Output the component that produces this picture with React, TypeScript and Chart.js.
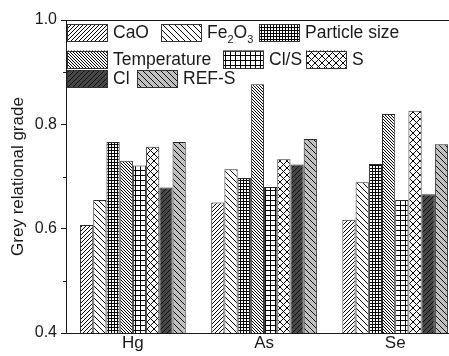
import React, { useEffect, useRef } from 'react';
import { Chart, registerables } from 'chart.js';

Chart.register(...registerables);

const categories = ['Hg', 'As', 'Se'];
const categoryPositions = [1, 2, 3];
const seriesNames = ['CaO', 'Fe2O3', 'Particle size', 'Temperature', 'Cl/S', 'S', 'Cl', 'REF-S'];
const CaO = [0.607, 0.65, 0.617];
const Fe2O3 = [0.655, 0.714, 0.689];
const particleSize = [0.766, 0.697, 0.724];
const temperature = [0.73, 0.877, 0.82];
const clS = [0.721, 0.68, 0.655];
const S = [0.757, 0.733, 0.826];
const Cl = [0.679, 0.723, 0.666];
const refS = [0.766, 0.772, 0.762];
const seriesValues = [CaO, Fe2O3, particleSize, temperature, clS, S, Cl, refS];
const yMajorTicks = [0.4, 0.6, 0.8, 1.0];
const yMinorTicks = [0.5, 0.7, 0.9];
const yTitle = 'Grey relational grade';

const FONT = "'Liberation Sans', Arial, Helvetica, sans-serif";
const INK = '#1a1a1a';

type PatSpec = { kind: 'fwd' | 'back' | 'grid' | 'cross'; s: number; bg: string; fg: string };
const patternSpecs: PatSpec[] = [
  { kind: 'fwd', s: 4, bg: '#ffffff', fg: '#000000' },
  { kind: 'back', s: 6, bg: '#ffffff', fg: '#000000' },
  { kind: 'grid', s: 3, bg: '#ffffff', fg: '#000000' },
  { kind: 'back', s: 3, bg: '#ffffff', fg: '#000000' },
  { kind: 'grid', s: 5, bg: '#ffffff', fg: '#000000' },
  { kind: 'cross', s: 7, bg: '#ffffff', fg: '#000000' },
  { kind: 'fwd', s: 5, bg: '#474747', fg: '#101010' },
  { kind: 'back', s: 6, bg: '#c0c0c0', fg: '#101010' },
];

function makePattern(spec: PatSpec): CanvasPattern | string {
  const c = document.createElement('canvas');
  const s = spec.s;
  c.width = s;
  c.height = s;
  const g = c.getContext('2d');
  if (!g) return spec.bg;
  g.fillStyle = spec.bg;
  g.fillRect(0, 0, s, s);
  g.strokeStyle = spec.fg;
  g.fillStyle = spec.fg;
  g.lineWidth = 1;
  const fwd = () => {
    g.beginPath();
    g.moveTo(-1, s + 1);
    g.lineTo(s + 1, -1);
    g.moveTo(-1, 1);
    g.lineTo(1, -1);
    g.moveTo(s - 1, s + 1);
    g.lineTo(s + 1, s - 1);
    g.stroke();
  };
  const back = () => {
    g.beginPath();
    g.moveTo(-1, -1);
    g.lineTo(s + 1, s + 1);
    g.moveTo(s - 1, -1);
    g.lineTo(s + 1, 1);
    g.moveTo(-1, s - 1);
    g.lineTo(1, s + 1);
    g.stroke();
  };
  if (spec.kind === 'fwd') fwd();
  else if (spec.kind === 'back') back();
  else if (spec.kind === 'cross') {
    fwd();
    back();
  } else {
    g.fillRect(0, 0, s, 1);
    g.fillRect(0, 0, 1, s);
  }
  return g.createPattern(c, 'repeat') || spec.bg;
}

const legendRows = [[0, 1, 2], [3, 4, 5], [6, 7]];
const legendRowTops = [24, 50.5, 70];
const legendSwatchX = [[67, 161, 259], [67, 223, 306], [67, 137]];
const SW_W = 41;
const SW_H = 17.5;
const LEGEND_FONT_SIZE = 17.5;

const framePlugin = {
  id: 'framePlugin',
  afterDraw(chart: any) {
    const ctx = chart.ctx as CanvasRenderingContext2D;
    const area = chart.chartArea;
    const y = chart.scales.y;
    ctx.save();
    // top frame line
    ctx.strokeStyle = INK;
    ctx.lineWidth = 1;
    ctx.beginPath();
    ctx.moveTo(area.left, Math.round(area.top) + 0.5);
    ctx.lineTo(area.right, Math.round(area.top) + 0.5);
    ctx.stroke();
    // minor ticks
    ctx.beginPath();
    yMinorTicks.forEach((v) => {
      const py = Math.round(y.getPixelForValue(v)) + 0.5;
      ctx.moveTo(area.left - 3, py);
      ctx.lineTo(area.left, py);
    });
    ctx.stroke();

    // legend
    const pats = chart.data.datasets.map((d: any) => d.backgroundColor);
    ctx.textBaseline = 'middle';
    ctx.textAlign = 'left';
    legendRows.forEach((row, ri) => {
      const top = legendRowTops[ri];
      row.forEach((di, ci) => {
        const x = legendSwatchX[ri][ci];
        ctx.fillStyle = pats[di];
        ctx.fillRect(x, top, SW_W, SW_H);
        ctx.strokeStyle = '#333';
        ctx.lineWidth = 1;
        ctx.strokeRect(Math.round(x) + 0.5, Math.round(top) + 0.5, SW_W - 1, Math.round(SW_H) - 1);
        const tx = x + SW_W + 5;
        const ty = top + SW_H / 2 + 0.5;
        ctx.fillStyle = INK;
        const name = seriesNames[di];
        if (name === 'Fe2O3') {
          const big = `${LEGEND_FONT_SIZE}px ${FONT}`;
          const small = `11px ${FONT}`;
          let cx = tx;
          const parts: [string, boolean][] = [['Fe', false], ['2', true], ['O', false], ['3', true]];
          parts.forEach(([t, sub]) => {
            ctx.font = sub ? small : big;
            ctx.fillText(t, cx, sub ? ty + 7 : ty);
            cx += ctx.measureText(t).width;
          });
        } else {
          ctx.font = `${LEGEND_FONT_SIZE}px ${FONT}`;
          ctx.fillText(name, tx, ty);
        }
      });
    });
    ctx.restore();
  },
};

export default function App() {
  const ref = useRef<HTMLCanvasElement | null>(null);
  useEffect(() => {
    const canvas = ref.current;
    if (!canvas) return;
    const datasets = seriesNames.map((name, i) => ({
      label: name,
      data: categoryPositions.map((x, j) => ({ x, y: seriesValues[i][j] })),
      backgroundColor: makePattern(patternSpecs[i]) as any,
      borderColor: '#2a2a2a',
      borderWidth: 1,
      categoryPercentage: 0.806,
      barPercentage: 1,
    }));
    const chart = new Chart(canvas, {
      type: 'bar',
      data: { datasets },
      options: {
        responsive: false,
        animation: false,
        layout: { padding: { top: 20, right: 0, left: 0, bottom: 0 } },
        font: { family: FONT },
        plugins: { legend: { display: false }, tooltip: { enabled: false } },
        scales: {
          x: {
            type: 'linear',
            min: 0.49,
            max: 3.41,
            offset: false,
            grid: { display: false, drawTicks: false },
            border: { display: true, color: INK, width: 1 },
            afterBuildTicks: (s: any) => {
              s.ticks = categoryPositions.map((v) => ({ value: v }));
            },
            ticks: {
              autoSkip: false,
              maxRotation: 0,
              padding: 0,
              color: INK,
              font: { family: FONT, size: 17 },
              callback: (v: any) => {
                const idx = categoryPositions.indexOf(Number(v));
                return idx >= 0 ? categories[idx] : '';
              },
            },
            afterFit: (s: any) => {
              s.height = 23;
            },
          } as any,
          y: {
            type: 'linear',
            min: 0.4,
            max: 1.0,
            afterBuildTicks: (s: any) => {
              s.ticks = yMajorTicks.map((v) => ({ value: v }));
            },
            grid: { drawOnChartArea: false, drawTicks: true, tickLength: 5, color: INK },
            border: { display: true, color: INK, width: 1 },
            ticks: {
              padding: 4,
              color: INK,
              font: { family: FONT, size: 16 },
              callback: (v: any) => Number(v).toFixed(1),
            },
            title: {
              display: true,
              text: yTitle,
              color: INK,
              font: { family: FONT, size: 17 },
              padding: { top: 8, bottom: 0 },
            },
            afterFit: (s: any) => {
              s.width = 66;
            },
          } as any,
        },
      },
      plugins: [framePlugin],
    });
    return () => chart.destroy();
  }, []);
  return (
    <div style={{ position: 'fixed', left: 0, top: 0, width: 449, height: 356, background: '#fff' }}>
      <canvas ref={ref} width={449} height={356} style={{ display: 'block', width: 449, height: 356 }} />
    </div>
  );
}
